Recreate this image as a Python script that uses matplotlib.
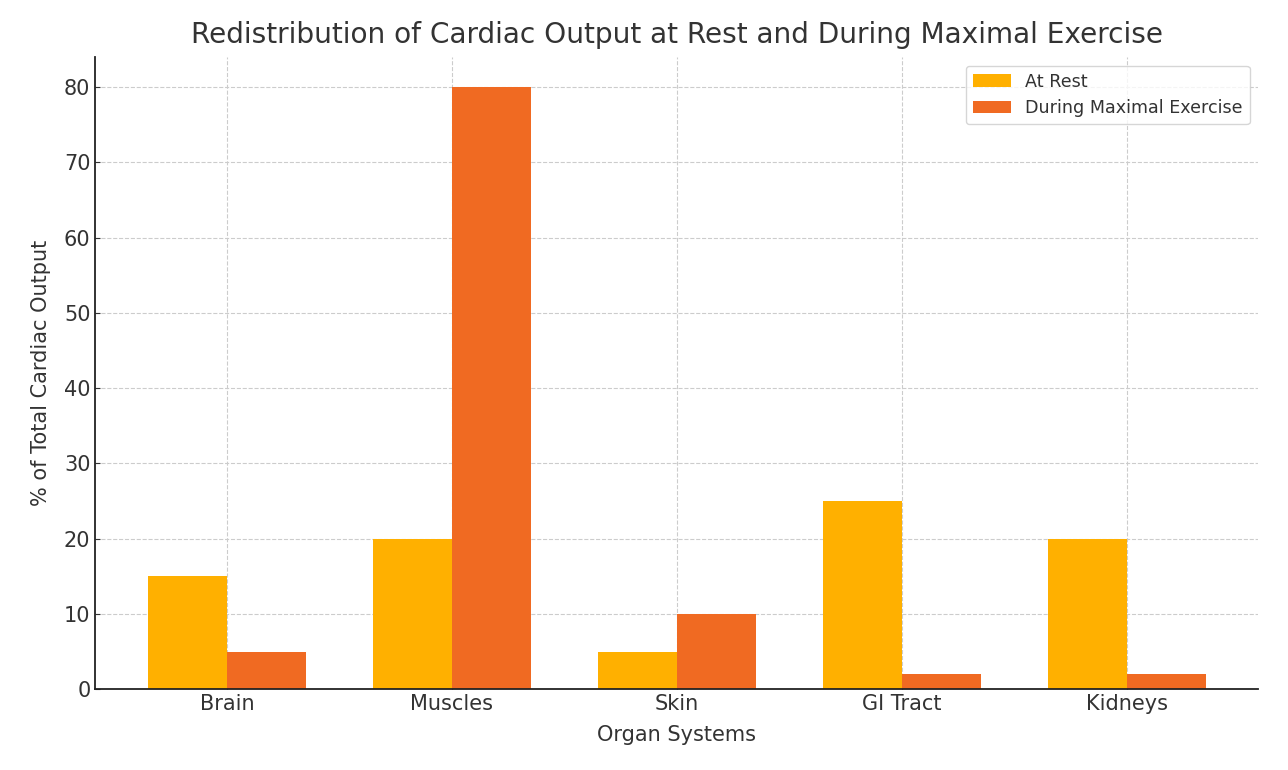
import matplotlib
matplotlib.use("Agg")
import matplotlib.pyplot as plt
import numpy as np

# data
organs = ['Brain', 'Muscles', 'Skin', 'GI Tract', 'Kidneys']
at_rest = [15, 20, 5, 25, 20]
max_exercise = [5, 80, 10, 2, 2]

text_col = '#333333'
plt.rcParams['text.color'] = text_col
plt.rcParams['axes.labelcolor'] = text_col
plt.rcParams['xtick.color'] = text_col
plt.rcParams['ytick.color'] = text_col

x = np.arange(len(organs))
width = 0.35

fig, ax = plt.subplots(figsize=(12.88, 7.7), dpi=100)
ax.bar(x - width / 2, at_rest, width, label='At Rest', color='#FFB000')
ax.bar(x + width / 2, max_exercise, width, label='During Maximal Exercise', color='#F06A22')

ax.set_title('Redistribution of Cardiac Output at Rest and During Maximal Exercise', fontsize=20.2, pad=10)
ax.set_xlabel('Organ Systems', fontsize=15, labelpad=8)
ax.set_ylabel('% of Total Cardiac Output', fontsize=15, labelpad=9)
ax.set_xticks(x)
ax.set_xticklabels(organs)
ax.tick_params(axis='both', labelsize=15, direction='in', colors='#333333')
ax.grid(True, linestyle='--', color='#cccccc', linewidth=0.8)
ax.set_axisbelow(True)
ax.spines['top'].set_visible(False)
ax.spines['right'].set_visible(False)
ax.spines['left'].set_color('#222222')
ax.spines['bottom'].set_color('#222222')
ax.spines['left'].set_linewidth(1.3)
ax.spines['bottom'].set_linewidth(1.3)
ax.legend(fontsize=12.6, handlelength=2.2)

plt.subplots_adjust(left=0.074, right=0.977, top=0.926, bottom=0.105)
plt.savefig('out.png')
